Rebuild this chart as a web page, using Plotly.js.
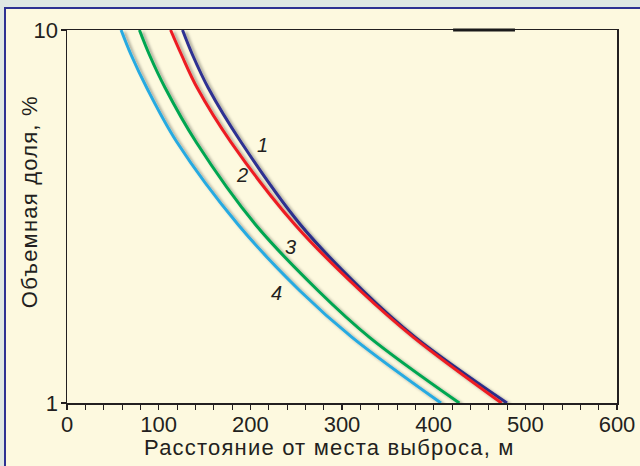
<!DOCTYPE html>
<html>
<head>
<meta charset="utf-8">
<script src="https://cdn.plot.ly/plotly-3.0.1.min.js"></script>
<style>
html, body { margin: 0; padding: 0; width: 640px; height: 466px; overflow: hidden; background: #dfe7e3; }
#panel { position: absolute; left: 4px; top: 7px; width: 640px; height: 470px; background: #fdf9df; border-left: 2px solid #2e3192; border-top: 2px solid #2e3192; }
#chart { position: absolute; left: 0; top: 0; width: 640px; height: 466px; }
.scatterlayer path.js-line { filter: url(#shadow); }
.annotation-text.axtitle { letter-spacing: 1.2px; }
</style>
</head>
<body>
<svg width="0" height="0" style="position:absolute">
  <defs>
    <filter id="shadow" x="-20%" y="-20%" width="140%" height="140%">
      <feDropShadow dx="3" dy="2" stdDeviation="1.5" flood-color="#000" flood-opacity="0.35"/>
    </filter>
  </defs>
</svg>
<div id="panel"></div>
<div id="chart"></div>
<script>
// Volume fraction levels (%), shared by all curves
const levels = [10, 8.57, 7, 5, 3, 2, 1.5, 1];
// Distance (m) at which each curve reaches the level
const curve1 = [126, 137, 154, 190, 255, 323, 380, 480];
const curve2 = [113, 125, 142, 179, 249, 320, 378, 474];
const curve3 = [79, 90, 107, 141, 206, 274, 330, 428];
const curve4 = [59, 70, 87, 120, 187, 254, 311, 408];
const curveNames = ['1', '2', '3', '4'];
const curveColors = ['#2e3192', '#ed1c24', '#00a651', '#27aae1'];
// Label positions for curve numbers
const labelX = [213, 191, 244, 229];
const labelY = [4.92, 4.09, 2.62, 1.97];

const series = [curve1, curve2, curve3, curve4];
const traces = series.map((xs, i) => ({
  x: xs, y: levels, type: 'scatter', mode: 'lines', name: curveNames[i],
  line: { color: curveColors[i], width: 3, shape: 'spline', smoothing: 1 },
  hoverinfo: 'skip'
}));

const fontFam = '"Liberation Sans", Arial, sans-serif';
const annotations = curveNames.map((t, i) => ({
  x: labelX[i], y: Math.log10(labelY[i]), xref: 'x', yref: 'y', text: t,
  showarrow: false, font: { family: fontFam, size: 20, color: '#231f20', style: 'italic' }
}));
annotations.push({
  x: 0.478, y: -0.118, xref: 'paper', yref: 'paper', text: 'Расстояние от места выброса, м',
  showarrow: false, xanchor: 'center', yanchor: 'middle',
  font: { family: fontFam, size: 22, color: '#231f20' }
});
annotations.push({
  x: -0.0673, y: 0.540, xref: 'paper', yref: 'paper', text: 'Объемная доля, %',
  showarrow: false, xanchor: 'center', yanchor: 'middle', textangle: -90,
  font: { family: fontFam, size: 22, color: '#231f20' }
});

const layout = {
  width: 640, height: 466,
  margin: { l: 67, r: 23, t: 30, b: 63 },
  paper_bgcolor: 'rgba(0,0,0,0)', plot_bgcolor: 'rgba(0,0,0,0)',
  showlegend: false,
  font: { family: fontFam, color: '#231f20' },
  xaxis: {
    range: [0, 600], dtick: 100, tick0: 0, showgrid: false, zeroline: false,
    showline: true, linecolor: '#231f20', linewidth: 1.5, mirror: true,
    ticks: 'outside', ticklen: 5, tickwidth: 1.3, tickcolor: '#231f20',
    ticklabelstandoff: -4,
    minor: { dtick: 20, ticks: 'outside', ticklen: 5, tickwidth: 1, tickcolor: '#231f20' },
    tickfont: { size: 22, family: fontFam, color: '#231f20' }
  },
  yaxis: {
    type: 'log', range: [0, 1], tickvals: [1, 10], ticktext: ['1', '10'],
    showgrid: false, zeroline: false,
    showline: true, linecolor: '#231f20', linewidth: 1.5, mirror: true,
    ticks: 'outside', ticklen: 5, tickwidth: 1.3, tickcolor: '#231f20',
    ticklabelstandoff: -2,
    tickfont: { size: 22, family: fontFam, color: '#231f20' }
  },
  shapes: [{
    type: 'line', xref: 'paper', yref: 'paper', x0: 0.702, x1: 0.8145, y0: 1, y1: 1,
    line: { color: '#1a1a1a', width: 3 }
  }],
  annotations: annotations
};

Plotly.newPlot('chart', traces, layout, { staticPlot: true }).then(() => {
  const anns = document.querySelectorAll('.annotation-text');
  anns.forEach(a => {
    const t = a.textContent;
    if (t.length > 3) a.classList.add('axtitle');
  });
});
</script>
</body>
</html>
